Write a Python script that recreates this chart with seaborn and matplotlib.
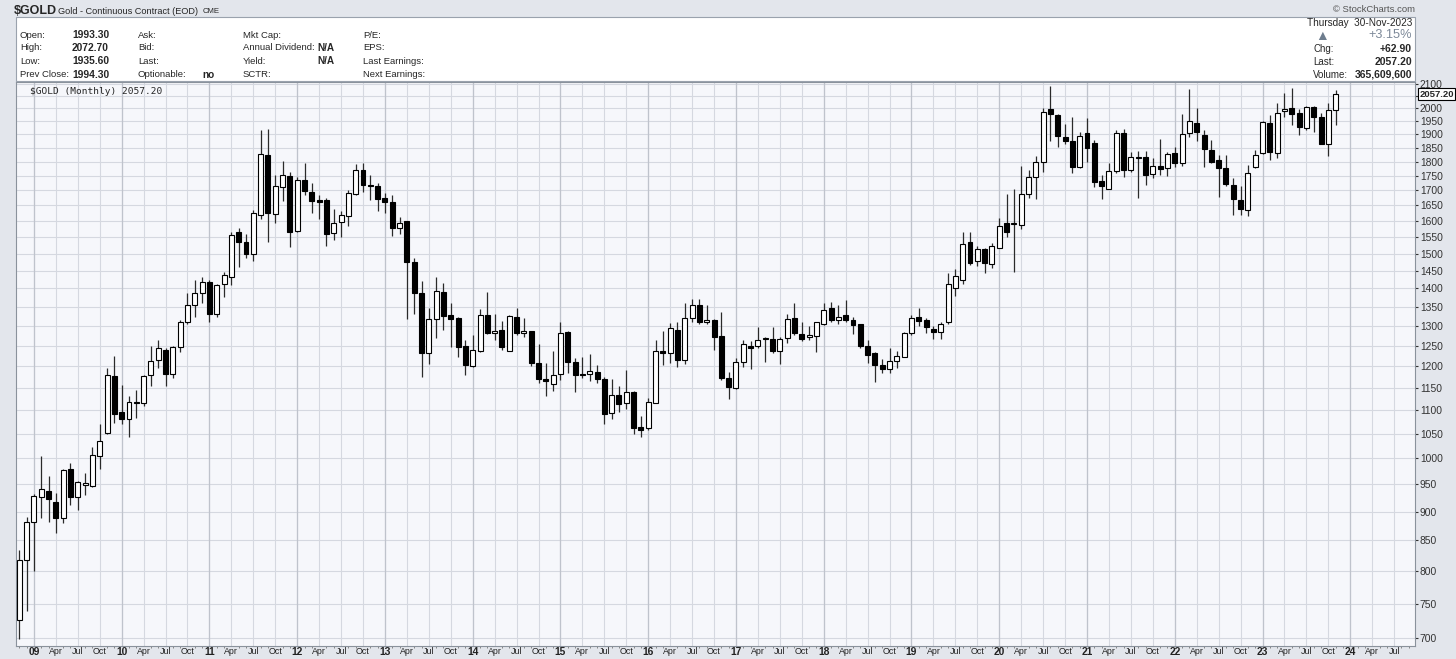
import matplotlib
matplotlib.use('Agg')
import matplotlib.pyplot as plt
import matplotlib.transforms as mtrans
from matplotlib.patches import Rectangle
import seaborn as sns
import numpy as np
import pandas as pd

# monthly candles, Nov 2008 .. Nov 2023
months = pd.date_range('2008-11-01', periods=181, freq='MS')

open_ = [726, 818, 882, 926, 938, 918, 888, 980, 926, 949, 947, 1004, 1052, 1178,
         1097, 1081, 1118, 1115, 1180, 1214, 1240, 1182, 1247, 1309, 1356, 1386,
         1419, 1332, 1412, 1433, 1564, 1535, 1499, 1619, 1822, 1622, 1710, 1750,
         1570, 1735, 1694, 1667, 1667, 1561, 1596, 1617, 1689, 1771, 1719, 1714,
         1673, 1662, 1578, 1599, 1474, 1387, 1233, 1319, 1391, 1327, 1321, 1249,
         1201, 1238, 1329, 1281, 1290, 1238, 1324, 1281, 1286, 1207, 1170, 1158,
         1182, 1283, 1210, 1181, 1181, 1186, 1171, 1094, 1133, 1115, 1141, 1064,
         1062, 1116, 1236, 1233, 1290, 1214, 1320, 1356, 1309, 1316, 1275, 1173,
         1150, 1211, 1248, 1250, 1266, 1267, 1238, 1270, 1321, 1279, 1271, 1275,
         1304, 1346, 1316, 1328, 1315, 1304, 1250, 1233, 1204, 1194, 1213, 1222,
         1282, 1324, 1314, 1291, 1283, 1310, 1401, 1424, 1535, 1477, 1513, 1470,
         1518, 1595, 1590, 1587, 1689, 1746, 1797, 1996, 1974, 1888, 1875, 1780,
         1905, 1866, 1733, 1704, 1765, 1906, 1769, 1816, 1815, 1756, 1785, 1776,
         1829, 1795, 1906, 1943, 1896, 1841, 1807, 1778, 1718, 1667, 1635, 1780,
         1829, 1941, 1831, 1989, 2000, 1980, 1922, 2004, 1964, 1862, 1993.3]
high = [834, 891, 931, 1004, 966, 934, 980, 990, 956, 972, 1023, 1070, 1196, 1224,
        1157, 1131, 1146, 1179, 1248, 1265, 1244, 1248, 1316, 1386, 1424, 1431,
        1424, 1412, 1445, 1567, 1578, 1560, 1636, 1917, 1921, 1752, 1802, 1763,
        1746, 1794, 1726, 1684, 1673, 1639, 1632, 1700, 1791, 1796, 1752, 1726,
        1691, 1684, 1612, 1601, 1487, 1421, 1346, 1433, 1415, 1359, 1323, 1265,
        1277, 1343, 1391, 1330, 1312, 1327, 1346, 1320, 1288, 1254, 1207, 1238,
        1309, 1286, 1220, 1222, 1229, 1204, 1174, 1170, 1153, 1190, 1142, 1087,
        1127, 1263, 1288, 1307, 1309, 1359, 1372, 1372, 1356, 1318, 1336, 1186,
        1219, 1265, 1261, 1296, 1272, 1298, 1272, 1330, 1361, 1309, 1299, 1311,
        1361, 1363, 1356, 1367, 1323, 1306, 1265, 1235, 1217, 1245, 1236, 1285,
        1328, 1347, 1320, 1300, 1309, 1442, 1454, 1564, 1565, 1523, 1516, 1531,
        1611, 1689, 1703, 1784, 1771, 1820, 2002, 2091, 1976, 1939, 1965, 1909,
        1963, 1878, 1754, 1796, 1915, 1918, 1836, 1838, 1838, 1811, 1881, 1836,
        1851, 1977, 2078, 2000, 1915, 1878, 1823, 1823, 1743, 1714, 1787, 1840,
        1950, 1974, 2020, 2060, 2080, 1996, 2010, 2008, 1980, 2020, 2072.7]
low = [699, 739, 800, 889, 881, 862, 880, 912, 903, 930, 944, 980, 1049, 1072,
       1071, 1044, 1083, 1110, 1153, 1196, 1153, 1173, 1235, 1305, 1322, 1359,
       1309, 1322, 1377, 1410, 1462, 1487, 1477, 1605, 1535, 1593, 1665, 1521,
       1564, 1684, 1624, 1607, 1522, 1542, 1550, 1583, 1684, 1694, 1667, 1632,
       1624, 1553, 1558, 1319, 1332, 1175, 1205, 1270, 1289, 1247, 1223, 1179,
       1199, 1234, 1279, 1264, 1239, 1236, 1276, 1271, 1201, 1161, 1131, 1142,
       1168, 1185, 1141, 1172, 1166, 1161, 1071, 1080, 1095, 1103, 1050, 1043,
       1058, 1115, 1204, 1207, 1199, 1205, 1309, 1306, 1305, 1240, 1168, 1124,
       1147, 1199, 1194, 1243, 1211, 1232, 1206, 1256, 1276, 1261, 1263, 1234,
       1303, 1309, 1305, 1311, 1279, 1243, 1207, 1164, 1185, 1185, 1195, 1221,
       1277, 1299, 1281, 1266, 1267, 1306, 1380, 1413, 1467, 1464, 1442, 1457,
       1517, 1551, 1446, 1574, 1673, 1670, 1763, 1873, 1852, 1862, 1761, 1776,
       1800, 1712, 1670, 1703, 1759, 1746, 1763, 1673, 1717, 1743, 1754, 1748,
       1780, 1783, 1889, 1873, 1780, 1794, 1677, 1714, 1619, 1619, 1616, 1776,
       1826, 1806, 1811, 1967, 1935, 1896, 1915, 1909, 1863, 1821, 1935.6]
close = [818, 882, 929, 941, 922, 889, 978, 926, 954, 952, 1007, 1035, 1180, 1092,
         1082, 1117, 1115, 1177, 1212, 1243, 1182, 1247, 1309, 1356, 1386, 1419,
         1332, 1410, 1439, 1555, 1535, 1499, 1624, 1827, 1624, 1714, 1751, 1564,
         1735, 1697, 1664, 1662, 1560, 1594, 1618, 1691, 1771, 1719, 1714, 1670,
         1660, 1578, 1593, 1474, 1387, 1232, 1319, 1394, 1325, 1319, 1247, 1203,
         1240, 1327, 1281, 1288, 1247, 1325, 1281, 1286, 1207, 1170, 1166, 1180,
         1281, 1211, 1180, 1180, 1188, 1170, 1092, 1133, 1114, 1141, 1062, 1057,
         1118, 1236, 1232, 1294, 1214, 1320, 1356, 1309, 1314, 1271, 1172, 1151,
         1211, 1254, 1245, 1264, 1270, 1238, 1267, 1317, 1281, 1267, 1276, 1309,
         1342, 1315, 1324, 1316, 1302, 1250, 1228, 1204, 1194, 1213, 1224, 1281,
         1320, 1312, 1297, 1283, 1306, 1411, 1434, 1529, 1472, 1513, 1472, 1523,
         1584, 1564, 1594, 1689, 1746, 1800, 1984, 1976, 1892, 1875, 1779, 1893,
         1848, 1729, 1714, 1766, 1906, 1769, 1815, 1814, 1752, 1785, 1773, 1827,
         1793, 1899, 1951, 1909, 1844, 1800, 1777, 1722, 1670, 1639, 1758, 1822,
         1947, 1836, 1983, 1996, 1977, 1928, 2006, 1964, 1865, 1994.3, 2057.2]

y_ticks = list(range(700, 2101, 50))
tick_dates = pd.date_range('2009-01-01', '2024-07-01', freq='QS')

df = pd.DataFrame({'date': months, 'open': open_, 'high': high,
                   'low': low, 'close': close})
df['x'] = np.arange(len(df))
df['up'] = df['close'] >= df['open']

sns.set_style('whitegrid')
plt.rcParams['font.family'] = ['Liberation Sans', 'DejaVu Sans']

W, H = 1456, 659
fig = plt.figure(figsize=(W / 100, H / 100), dpi=100)
fig.patch.set_facecolor('#e3e6ec')

def fx(px):
    return px / W

def fy(py):
    return 1 - py / H

# header panel
fig.patches.append(Rectangle((fx(16), fy(81)), fx(1415) - fx(16), fy(17) - fy(81),
                             transform=fig.transFigure, facecolor='white',
                             edgecolor='#9aa2ad', linewidth=0.8, zorder=0))

fig.text(fx(14), fy(11), '$GOLD', fontsize=9, fontweight='bold', va='center')
fig.text(fx(58), fy(11), 'Gold - Continuous Contract (EOD)', fontsize=6.6, va='center')
fig.text(fx(203), fy(11.5), 'CME', fontsize=5.6, va='center')
fig.text(fx(1415), fy(9), '\u00a9 StockCharts.com', fontsize=6.8, color='#555555',
         ha='right', va='center')

rows = [35, 48, 61.5, 74.5]
cols = [
    (20, ['Open:', 'High:', 'Low:', 'Prev Close:'], False),
    (72, ['1993.30', '2072.70', '1935.60', '1994.30'], True),
    (138, ['Ask:', 'Bid:', 'Last:', 'Optionable:'], False),
    (243, ['Mkt Cap:', 'Annual Dividend:', 'Yield:', 'SCTR:'], False),
    (363, ['P/E:', 'EPS:', 'Last Earnings:', 'Next Earnings:'], False),
]
for x0, labels, bold in cols:
    for yy, lab in zip(rows, labels):
        fig.text(fx(x0), fy(yy), lab, fontsize=7.4 if bold else 6.8,
                 fontweight='bold' if bold else 'normal', va='center')
fig.text(fx(202), fy(rows[3] + 1), 'no', fontsize=7.2, fontweight='bold', va='center')
fig.text(fx(317), fy(rows[1]), 'N/A', fontsize=7.2, fontweight='bold', va='center')
fig.text(fx(317), fy(rows[2]), 'N/A', fontsize=7.2, fontweight='bold', va='center')

fig.text(fx(1412), fy(23), 'Thursday  30-Nov-2023', fontsize=7.2, ha='right', va='center')
fig.text(fx(1322), fy(35.5), '\u25b2', fontsize=10, color='#6e7d8e', ha='center', va='center')
fig.text(fx(1412), fy(35.5), '+3.15%', fontsize=9.2, color='#7c8898', ha='right', va='center')
for yy, lab, val in [(49, 'Chg:', '+62.90'), (62, 'Last:', '2057.20'),
                     (74.5, 'Volume:', '365,609,600')]:
    fig.text(fx(1313), fy(yy), lab, fontsize=7, va='center')
    fig.text(fx(1412), fy(yy), val, fontsize=7.5, fontweight='bold', ha='right', va='center')

# price panel
ax = fig.add_axes([fx(16), fy(646), fx(1415) - fx(16), fy(82) - fy(646)])
ax.set_facecolor('#f6f7fb')
ax.set_yscale('log')

ax.vlines(df['x'], df['low'], df['high'], color='#2a2a2a', linewidth=0.9, zorder=3)
body_lo = df[['open', 'close']].min(axis=1)
body_hi = df[['open', 'close']].max(axis=1)
ax.bar(df['x'], body_hi - body_lo, bottom=body_lo, width=0.68,
       color=np.where(df['up'], 'white', 'black'), edgecolor='black',
       linewidth=0.8, zorder=4)

ax.set_xlim(-0.45, 190.85)
ax.set_ylim(689.6, 2106.9)

tick_x = [(d.year - 2008) * 12 + d.month - 11 for d in tick_dates]
tick_lab = [f'{d.year % 100:02d}' if d.month == 1 else d.strftime('%b') for d in tick_dates]
ax.set_xticks(tick_x)
ax.set_xticklabels(tick_lab)
for t, d in zip(ax.get_xticklabels(), tick_dates):
    if d.month == 1:
        t.set_fontweight('bold')
        t.set_fontsize(7.4)
    else:
        t.set_fontsize(6.4)
ax.set_xticks(np.arange(0, 191), minor=True)

# the 2050 label sits under the last-price tag
ax.yaxis.tick_right()
ax.set_yticks(y_ticks)
ax.set_yticklabels(['' if v == 2050 else str(v) for v in y_ticks])
ax.set_yticks([], minor=True)
ax.tick_params(axis='y', which='major', labelsize=7.4, length=2, pad=1.5,
               colors='#333333', right=True, left=False)
ax.tick_params(axis='x', which='major', length=0, pad=1, colors='#222222', bottom=True)
ax.tick_params(axis='x', which='minor', length=1.5, bottom=True, color='#777777')

ax.grid(True, which='major', axis='both', color='#d5d8e0', linewidth=0.8)
for d, xv in zip(tick_dates, tick_x):
    if d.month == 1:
        ax.axvline(xv, color='#bfc3cc', linewidth=0.9, zorder=1)
for s in ax.spines.values():
    s.set_color('#8a929c')
    s.set_linewidth(0.8)

ax.text(0.01, 0.992, '$GOLD (Monthly) 2057.20', transform=ax.transAxes,
        fontsize=6.8, family='DejaVu Sans Mono', va='top', ha='left', zorder=6)

tr = mtrans.blended_transform_factory(ax.transAxes, ax.transData)
ax.text(1.003, 2057.2, '2057.20', transform=tr, fontsize=6.8, fontweight='bold',
        va='center', ha='left', zorder=7, clip_on=False,
        bbox=dict(boxstyle='square,pad=0.12', fc='white', ec='black', lw=0.8))

fig.savefig('out.png', dpi=100, facecolor=fig.get_facecolor())
